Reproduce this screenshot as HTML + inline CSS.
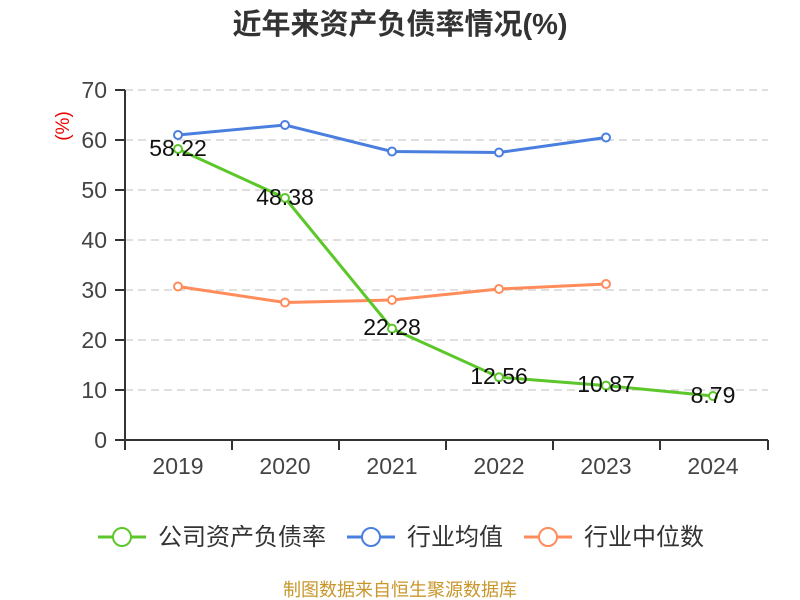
<!DOCTYPE html>
<html><head><meta charset="utf-8"><style>body{margin:0;background:#fff}svg{display:block}</style></head><body>
<svg width="800" height="600" xmlns="http://www.w3.org/2000/svg" font-family="'Liberation Sans','Noto Sans CJK SC',sans-serif">
<text x="400" y="34" text-anchor="middle" font-size="29" font-weight="bold" fill="#333">近年来资产负债率情况(%)</text>
<g stroke="#ccc" stroke-dasharray="8,5" stroke-width="1.2">
<line x1="125" x2="768" y1="90" y2="90"/><line x1="125" x2="768" y1="140" y2="140"/><line x1="125" x2="768" y1="190" y2="190"/><line x1="125" x2="768" y1="240" y2="240"/><line x1="125" x2="768" y1="290" y2="290"/><line x1="125" x2="768" y1="340" y2="340"/><line x1="125" x2="768" y1="390" y2="390"/>
</g>
<g stroke="#333" stroke-width="2">
<line x1="125" y1="90" x2="125" y2="441"/><line x1="124" y1="440" x2="768" y2="440"/>
<line x1="115" x2="125" y1="90" y2="90"/><line x1="115" x2="125" y1="140" y2="140"/><line x1="115" x2="125" y1="190" y2="190"/><line x1="115" x2="125" y1="240" y2="240"/><line x1="115" x2="125" y1="290" y2="290"/><line x1="115" x2="125" y1="340" y2="340"/><line x1="115" x2="125" y1="390" y2="390"/><line x1="115" x2="125" y1="440" y2="440"/>
<line x1="125" x2="125" y1="440" y2="450"/><line x1="232" x2="232" y1="440" y2="450"/><line x1="339" x2="339" y1="440" y2="450"/><line x1="446" x2="446" y1="440" y2="450"/><line x1="553" x2="553" y1="440" y2="450"/><line x1="660" x2="660" y1="440" y2="450"/><line x1="768" x2="768" y1="440" y2="450"/>
</g>
<g font-size="23" fill="#444" text-anchor="end">
<text x="107" y="98">70</text><text x="107" y="148">60</text><text x="107" y="198">50</text><text x="107" y="248">40</text><text x="107" y="298">30</text><text x="107" y="348">20</text><text x="107" y="398">10</text><text x="107" y="448">0</text>
</g>
<g font-size="23" fill="#444" text-anchor="middle">
<text x="178" y="474">2019</text><text x="285" y="474">2020</text><text x="392" y="474">2021</text><text x="499" y="474">2022</text><text x="606" y="474">2023</text><text x="713" y="474">2024</text>
</g>
<text transform="translate(69,126) rotate(-90)" font-size="19" fill="#e00" text-anchor="middle">(%)</text>
<g fill="none" stroke-width="3">
<polyline stroke="#4a7fdf" points="178,135 285,125 392,151.5 499,152.5 606,137.5"/>
<polyline stroke="#ff8c5a" points="178,286.5 285,302.5 392,300 499,289 606,284"/>
<polyline stroke="#5cc72a" points="178,149 285,198 392,328.6 499,377.2 606,385.6 713,396"/>
</g>
<g fill="#fff" stroke-width="2">
<g stroke="#4a7fdf"><circle cx="178" cy="135" r="4"/><circle cx="285" cy="125" r="4"/><circle cx="392" cy="151.5" r="4"/><circle cx="499" cy="152.5" r="4"/><circle cx="606" cy="137.5" r="4"/></g>
<g stroke="#ff8c5a"><circle cx="178" cy="286.5" r="4"/><circle cx="285" cy="302.5" r="4"/><circle cx="392" cy="300" r="4"/><circle cx="499" cy="289" r="4"/><circle cx="606" cy="284" r="4"/></g>
<g stroke="#5cc72a"><circle cx="178" cy="149" r="4"/><circle cx="285" cy="198" r="4"/><circle cx="392" cy="328.6" r="4"/><circle cx="499" cy="377.2" r="4"/><circle cx="606" cy="385.6" r="4"/><circle cx="713" cy="396" r="4"/></g>
</g>
<g font-size="23" fill="#111" text-anchor="middle">
<text x="178" y="156">58.22</text><text x="285" y="205">48.38</text><text x="392" y="335">22.28</text><text x="499" y="384">12.56</text><text x="606" y="392">10.87</text><text x="713" y="403">8.79</text>
</g>
<g font-size="24" fill="#333">
<line x1="98" x2="146" y1="537" y2="537" stroke="#5cc72a" stroke-width="3"/><circle cx="122" cy="537" r="9" fill="#fff" stroke="#5cc72a" stroke-width="2"/><text x="158" y="545">公司资产负债率</text>
<line x1="347" x2="395" y1="537" y2="537" stroke="#4a7fdf" stroke-width="3"/><circle cx="371" cy="537" r="9" fill="#fff" stroke="#4a7fdf" stroke-width="2"/><text x="407" y="545">行业均值</text>
<line x1="524" x2="572" y1="537" y2="537" stroke="#ff8c5a" stroke-width="3"/><circle cx="548" cy="537" r="9" fill="#fff" stroke="#ff8c5a" stroke-width="2"/><text x="584" y="545">行业中位数</text>
</g>
<text x="400" y="596" font-size="18" fill="#c8962a" text-anchor="middle">制图数据来自恒生聚源数据库</text>
</svg>
</body></html>
